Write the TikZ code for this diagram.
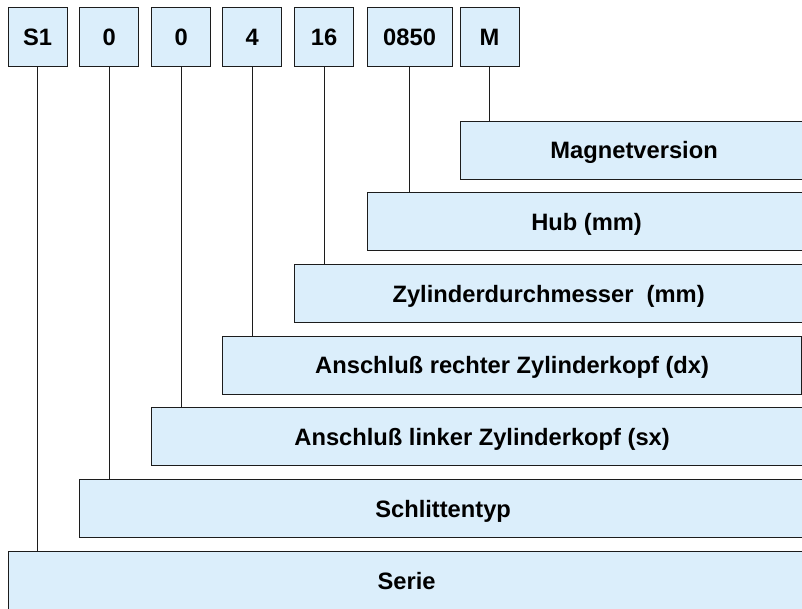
\documentclass[tikz,border=0pt]{standalone}
\usepackage{fontspec}
\setmainfont{Liberation Sans}
\definecolor{boxfill}{RGB}{219,238,251}
\definecolor{edge}{RGB}{28,28,28}
\begin{document}
\begin{tikzpicture}[x=1pt,y=-1pt,
  codebox/.style={draw=edge, line width=1.2pt, fill=boxfill, anchor=north west,
    inner sep=0pt, minimum height=58pt, text height=17pt, text depth=0pt,
    font=\fontsize{23.7}{28}\selectfont\bfseries},
  topbox/.style={codebox, minimum width=59pt, minimum height=59pt},
  link/.style={draw=edge, line width=1.2pt}]
\useasboundingbox (0,0) rectangle (802,608);
\clip (0,0) rectangle (802,608);
% top code boxes
\node[topbox] (s1) at (7.5,7) {S1};
\node[topbox] (c2) at (79,7) {0};
\node[topbox] (c3) at (151,7) {0};
\node[topbox] (c4) at (222,7) {4};
\node[topbox] (c5) at (294,7) {16};
\node[topbox, minimum width=85pt] (c6) at (366.5,7) {0850};
\node[topbox] (c7) at (459.5,7) {M};
% description boxes
\node[codebox, minimum width=347pt] (magnet) at (460,120.5) {Magnetversion};
\node[codebox, minimum width=438pt] (hub) at (367,192) {Hub (mm)};
\node[codebox, minimum width=508pt] (zyl) at (294,264) {Zylinderdurchmesser~ (mm)};
\node[codebox, minimum width=579pt] (dx) at (222,335.5) {Anschluß rechter Zylinderkopf (dx)};
\node[codebox, minimum width=661pt] (sx) at (151,407) {Anschluß linker Zylinderkopf (sx)};
\node[codebox, minimum width=727pt] (typ) at (79,479) {Schlittentyp};
\node[codebox, minimum width=796pt, minimum height=60pt] (serie) at (8,550.5) {Serie};
% connectors
\draw[link] (s1.south) -- (s1.south |- serie.north);
\draw[link] (c2.south) -- (c2.south |- typ.north);
\draw[link] (c3.south) -- (c3.south |- sx.north);
\draw[link] (c4.south) -- (c4.south |- dx.north);
\draw[link] (c5.south) -- (c5.south |- zyl.north);
\draw[link] (c6.south) -- (c6.south |- hub.north);
\draw[link] (c7.south) -- (c7.south |- magnet.north);
\end{tikzpicture}
\end{document}
